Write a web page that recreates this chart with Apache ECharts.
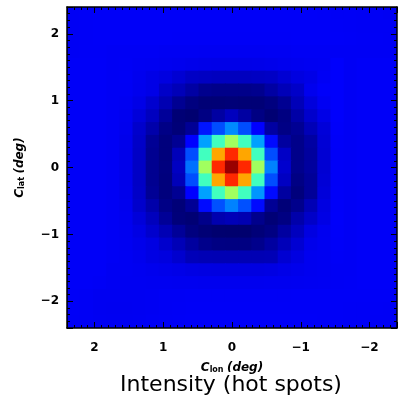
<!DOCTYPE html>
<html><head><meta charset="utf-8">
<script src="https://cdn.jsdelivr.net/npm/echarts@6/dist/echarts.min.js"></script>
<style>html,body{margin:0;padding:0;background:#fff}#c{width:399px;height:404px}</style>
</head><body><div id="c"></div>
<script>
// cell centres (deg), left->right for longitude, top->bottom for latitude
const lonCenters = [2.304,2.112,1.920,1.728,1.536,1.344,1.152,0.960,0.768,0.576,0.384,0.192,0,-0.192,-0.384,-0.576,-0.768,-0.960,-1.152,-1.344,-1.536,-1.728,-1.920,-2.112,-2.304];
const latCenters = [2.304,2.112,1.920,1.728,1.536,1.344,1.152,0.960,0.768,0.576,0.384,0.192,0,-0.192,-0.384,-0.576,-0.768,-0.960,-1.152,-1.344,-1.536,-1.728,-1.920,-2.112,-2.304];
const axisRange = [-2.4, 2.4];
const titleText = 'Intensity (hot spots)';
// intensity, one row per latitude cell (top row first), 0..100 colour scale
const intensityRows = [
[11.6,11.8,11.9,11.9,11.9,11.9,11.9,11.9,11.9,11.9,11.9,11.9,11.9,11.9,11.9,11.9,11.9,11.9,11.9,11.8,11.7,11.7,11.6,11.6,11.5],
[11.6,11.8,11.9,11.9,11.9,11.9,11.9,11.9,11.9,11.9,11.9,11.9,11.9,11.9,11.9,11.9,11.9,11.9,11.9,11.9,11.8,11.7,11.6,11.6,11.6],
[11.6,11.8,11.9,11.9,11.9,11.9,11.9,11.9,11.8,11.8,11.8,11.8,11.8,11.8,11.8,11.8,11.8,11.9,11.9,11.9,11.9,11.8,11.7,11.7,11.6],
[11.6,11.8,11.8,11.6,11.6,11.6,11.6,11.5,11.5,11.5,11.4,11.4,11.4,11.4,11.4,11.5,11.5,11.6,11.6,11.6,11.6,11.6,11.6,11.6,11.6],
[11.9,11.9,11.9,11.6,11.7,11.5,11.4,11.2,11.0,10.8,10.6,10.5,10.5,10.5,10.6,10.8,11.0,11.2,11.4,11.5,12.2,11.6,11.9,11.9,11.9],
[11.9,11.9,11.9,11.6,11.7,11.1,10.4,9.8,8.7,7.5,7.2,7.0,7.0,7.0,7.2,7.5,8.7,9.8,10.4,11.6,12.2,11.6,11.9,11.9,11.9],
[11.9,11.9,11.9,11.6,11.6,11.0,10.4,7.8,6.4,4.6,2.8,2.4,2.4,2.4,2.8,4.6,6.4,7.8,11.0,12.1,12.2,11.6,11.9,11.9,11.9],
[11.9,11.9,11.9,11.6,11.4,10.4,8.4,5.9,3.1,1.5,0.7,0.7,0.9,0.7,0.7,1.5,3.1,6.4,9.5,11.5,12.2,11.6,11.9,11.9,11.9],
[11.9,11.9,11.9,11.6,11.2,9.3,7.0,3.7,0.6,0.2,1.8,4.5,6.9,4.5,1.8,0.4,1.6,4.8,8.1,10.4,12.2,11.6,11.9,11.9,11.9],
[11.9,11.9,11.9,11.6,11.0,8.1,5.2,2.1,0.9,3.4,14.5,20,26,20,12.5,4.5,2.0,3.2,6.3,9.2,12.1,11.6,11.9,11.9,11.9],
[11.9,11.9,11.9,11.6,10.8,7.8,3.4,1.3,3.2,12.5,28.2,43.8,53.2,43.8,28.2,13.5,4.3,2.4,4.5,8.9,11.9,11.6,11.9,11.9,11.9],
[11.9,11.9,11.9,11.6,10.7,7.6,3.0,1.3,6.5,20,43.8,71.3,83.6,71.3,43.8,20,7.6,2.4,4.1,8.7,11.8,11.6,11.9,11.9,11.9],
[11.9,11.9,11.9,11.6,10.7,7.6,3.0,1.5,7.2,23.5,53.2,83.6,97.5,83.6,53.2,25.2,8.3,2.6,4.1,8.7,11.8,11.6,11.9,11.9,11.9],
[11.9,11.9,11.9,11.6,10.7,7.6,3.0,1.3,6.5,20,43.8,71.3,83.6,71.3,43.8,20,7.2,1.9,3.6,9.0,11.8,11.6,11.9,11.9,11.9],
[11.9,11.9,11.9,11.6,10.8,7.8,3.4,1.3,3.2,12.5,28.2,43.8,53.2,43.8,27.2,13.5,4.3,1.2,3.6,9.3,11.9,11.6,11.9,11.9,11.9],
[11.9,11.9,11.9,11.6,11.0,8.1,5.2,2.1,0.9,3.4,13.5,20.3,25.2,20.3,13.5,3.4,0.9,2.6,6.0,9.9,12.0,11.6,11.9,11.9,11.9],
[11.9,11.9,11.9,11.6,11.2,9.3,6.8,3.5,1.0,0.5,2.4,5.6,6.3,5.8,2.6,0.7,1.7,5.2,7.8,10.3,12.1,11.6,11.9,11.9,11.9],
[11.9,11.9,11.9,11.6,11.3,10.2,8.2,6.0,3.6,1.5,0.6,0.1,0.0,0.0,0.9,1.7,4.3,6.9,9.9,11.2,12.0,11.6,11.9,11.9,11.9],
[11.9,11.9,11.9,11.6,11.4,10.8,10.0,8.2,6.3,4.2,2.5,1.8,1.7,1.7,2.6,4.3,6.5,8.6,10.8,11.3,11.9,11.6,11.9,11.9,11.9],
[11.9,11.9,11.9,11.6,11.5,11.0,10.2,9.7,8.4,6.5,6.1,6.0,6.0,6.0,6.0,6.2,8.6,9.9,11.2,11.4,11.8,11.6,11.9,11.9,11.9],
[11.9,11.9,11.9,11.5,11.5,11.3,11.0,10.8,10.5,10.2,10.0,9.9,9.9,9.9,9.9,10.1,10.5,10.9,11.2,11.4,11.6,11.6,11.9,11.9,11.9],
[11.9,11.9,11.7,11.5,11.4,11.4,11.3,11.3,11.2,11.2,11.1,11.1,11.1,11.1,11.1,11.2,11.2,11.3,11.4,11.5,11.6,11.7,11.9,11.9,11.9],
[11.8,11.6,11.4,11.4,11.4,11.4,11.5,11.6,11.6,11.7,11.7,11.7,11.7,11.7,11.7,11.7,11.7,11.8,11.8,11.8,11.8,11.8,11.8,11.8,11.8],
[11.8,11.6,11.4,11.3,11.3,11.4,11.5,11.6,11.7,11.8,11.8,11.8,11.8,11.8,11.8,11.8,11.8,11.8,11.8,11.8,11.8,11.7,11.7,11.7,11.6],
[11.7,11.6,11.5,11.4,11.4,11.5,11.6,11.7,11.8,11.9,11.9,11.9,11.9,11.9,11.9,11.9,11.9,11.9,11.9,11.8,11.8,11.7,11.7,11.6,11.6]
];
const jetColors = ['#00006e','#0000ff','#0080ff','#00ffff','#80ff80','#ffff00','#ff8000','#ff0000','#800000'];

const cells = [];
intensityRows.forEach((row, r) => row.forEach((v, c) => cells.push([lonCenters[c], latCenters[r], v])));
const halfLon = Math.abs(lonCenters[0] - lonCenters[1]) / 2;
const halfLat = Math.abs(latCenters[0] - latCenters[1]) / 2;

const fmt = v => (v < 0 ? '\u2212' + Math.abs(v) : String(v));
const FONT = 'DejaVu Sans';
const valueAxisBase = {
  type: 'value', min: axisRange[0], max: axisRange[1],
  axisLine: { show: true, onZero: false, lineStyle: { color: '#000', width: 1.5 } },
  axisTick: { show: true, inside: true, length: 6, lineStyle: { color: '#000', width: 1 } },
  minorTick: { show: true, splitNumber: 10, length: 3, lineStyle: { color: '#000', width: 1 } },
  splitLine: { show: false }, minorSplitLine: { show: false },
  axisLabel: { show: true, showMinLabel: false, showMaxLabel: false, formatter: fmt,
    color: '#000', fontFamily: FONT, fontWeight: 'bold', fontSize: 12 },
  z: 10
};
const nameRich = {
  c: { fontFamily: FONT, fontWeight: 'bold', fontStyle: 'italic', fontSize: 12, color: '#000' },
  s: { fontFamily: FONT, fontWeight: 'bold', fontSize: 8, color: '#000', verticalAlign: 'bottom', padding: [5, 0, 0, 0] }
};

function renderCell(params, api) {
  const x = api.value(0), y = api.value(1);
  const p0 = api.coord([x + halfLon, y + halfLat]);
  const p1 = api.coord([x - halfLon, y - halfLat]);
  const left = Math.min(p0[0], p1[0]) - 0.5, top = Math.min(p0[1], p1[1]) - 0.5;
  const w = Math.abs(p1[0] - p0[0]) + 1, h = Math.abs(p1[1] - p0[1]) + 1;
  return { type: 'rect', shape: { x: left, y: top, width: w, height: h },
    style: { fill: api.visual('color') } };
}

const chart = echarts.init(document.getElementById('c'), null, { renderer: 'canvas' });
chart.setOption({
  animation: false,
  backgroundColor: '#fff',
  grid: { left: 67, top: 7, width: 330, height: 321, containLabel: false },
  visualMap: { show: false, type: 'continuous', min: 0, max: 100, dimension: 2, seriesIndex: 0, inRange: { color: jetColors } },
  xAxis: [
    Object.assign({}, valueAxisBase, { position: 'bottom', inverse: true,
      axisLabel: Object.assign({}, valueAxisBase.axisLabel, { margin: 14 }),
      name: '{c|C}{s|lon} {c|(deg)}', nameLocation: 'middle', nameGap: 33,
      nameTextStyle: { rich: nameRich } }),
    Object.assign({}, valueAxisBase, { position: 'top', inverse: true, axisLabel: { show: false } })
  ],
  yAxis: [
    Object.assign({}, valueAxisBase, { position: 'left',
      axisLabel: Object.assign({}, valueAxisBase.axisLabel, { margin: 8 }),
      name: '{c|C}{s|lat} {c|(deg)}', nameLocation: 'middle', nameGap: 41,
      nameTextStyle: { rich: nameRich } }),
    Object.assign({}, valueAxisBase, { position: 'right', axisLabel: { show: false } })
  ],
  graphic: [{ type: 'text', x: 231, y: 385, z: 100,
    style: { text: titleText, textAlign: 'center', textVerticalAlign: 'middle',
      font: '22px "DejaVu Sans"', fill: '#000' } }],
  series: [{
    type: 'custom', xAxisIndex: 0, yAxisIndex: 0, data: cells, clip: true,
    renderItem: renderCell, encode: { x: 0, y: 1 }, z: 1, silent: true
  }]
});
</script></body></html>
